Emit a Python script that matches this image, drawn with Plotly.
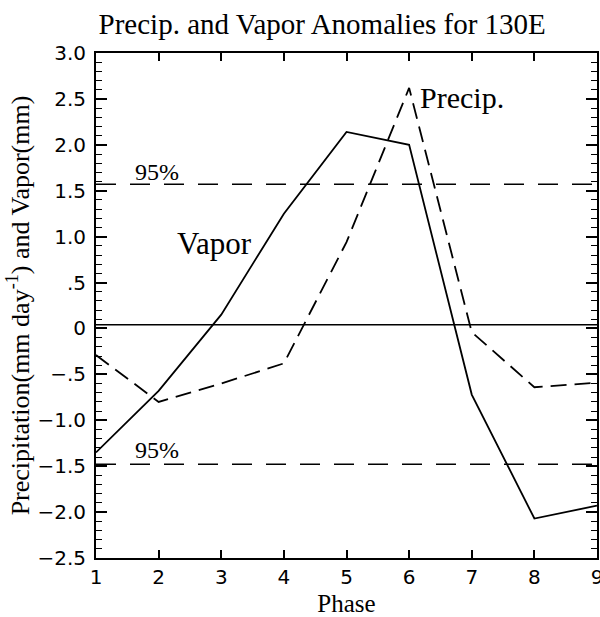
import plotly.graph_objects as go

phase = [1, 2, 3, 4, 5, 6, 7, 8, 9]
vapor = [-1.35, -0.68, 0.15, 1.25, 2.14, 2.0, -0.72, -2.07, -1.93]
precip = [-0.29, -0.80, -0.60, -0.38, 0.94, 2.62, -0.04, -0.64, -0.59]
sig_upper = 1.57
sig_lower = -1.48
zero_level = 0.04
ytick_vals = [3.0, 2.5, 2.0, 1.5, 1.0, 0.5, 0.0, -0.5, -1.0, -1.5, -2.0, -2.5]
ytick_text = ["3.0", "2.5", "2.0", "1.5", "1.0", ".5", "0", "\u2212.5", "\u22121.0", "\u22121.5", "\u22122.0", "\u22122.5"]

serif = "Liberation Serif, Times New Roman, serif"
sans = "DejaVu Sans, Arial, sans-serif"

fig = go.Figure()
fig.add_trace(go.Scatter(x=[phase[0], phase[-1]], y=[zero_level, zero_level], mode="lines",
                         line=dict(color="black", width=1.5), showlegend=False, hoverinfo="skip"))
fig.add_trace(go.Scatter(x=[phase[0], phase[-1]], y=[sig_upper, sig_upper], mode="lines",
                         line=dict(color="black", width=1.5, dash="20px,14px"), showlegend=False))
fig.add_trace(go.Scatter(x=[phase[0], phase[-1]], y=[sig_lower, sig_lower], mode="lines",
                         line=dict(color="black", width=1.5, dash="20px,14px"), showlegend=False))
fig.add_trace(go.Scatter(x=phase, y=vapor, mode="lines", name="Vapor",
                         line=dict(color="black", width=1.8), showlegend=False))
fig.add_trace(go.Scatter(x=phase, y=precip, mode="lines", name="Precip.",
                         line=dict(color="black", width=1.8, dash="16px,8px"), showlegend=False))

fig.add_annotation(x=1.97, y=1.70, text="95%", showarrow=False, font=dict(family=serif, size=24, color="black"))
fig.add_annotation(x=1.97, y=-1.32, text="95%", showarrow=False, font=dict(family=serif, size=24, color="black"))
fig.add_annotation(x=2.90, y=0.93, text="Vapor", showarrow=False, font=dict(family=serif, size=31, color="black"))
fig.add_annotation(x=6.85, y=2.51, text="Precip.", showarrow=False, font=dict(family=serif, size=30, color="black"))

fig.update_layout(
    width=600, height=617,
    paper_bgcolor="white", plot_bgcolor="white",
    margin=dict(l=96, r=3, t=53, b=59),
    title=dict(text="Precip. and Vapor Anomalies for 130E", x=0.537, xanchor="center", y=0.977, yanchor="top",
               font=dict(family=serif, size=29, color="black")),
    xaxis=dict(range=[1, 9], tickvals=phase, ticks="inside", ticklen=8, tickwidth=1.5, tickcolor="black",
               showline=True, linecolor="black", linewidth=2, mirror="allticks", showgrid=False, zeroline=False,
               automargin=False, ticklabelstandoff=0, ticklabeloverflow="allow",
               tickfont=dict(family=sans, size=20, color="black"),
               title=dict(text="Phase", font=dict(family=serif, size=25, color="black"), standoff=10)),
    yaxis=dict(range=[-2.5, 3.0], tickvals=ytick_vals, ticktext=ytick_text, ticks="inside", ticklen=11,
               tickwidth=1.5, tickcolor="black", ticklabelstandoff=4,
               minor=dict(dtick=0.1, ticks="inside", ticklen=6, tickwidth=1.2, tickcolor="black", showgrid=False),
               showline=True, linecolor="black", linewidth=2, mirror="allticks", showgrid=False, zeroline=False,
               automargin=False,
               tickfont=dict(family=sans, size=20, color="black"),
               title=dict(text="Precipitation(mm day<sup>-1</sup>) and Vapor(mm)",
                          font=dict(family=serif, size=26, color="black"), standoff=0)),
)

fig.write_html("out.html", config={"displayModeBar": False},
               post_script="document.body.style.margin='0';document.body.style.overflow='hidden';")
